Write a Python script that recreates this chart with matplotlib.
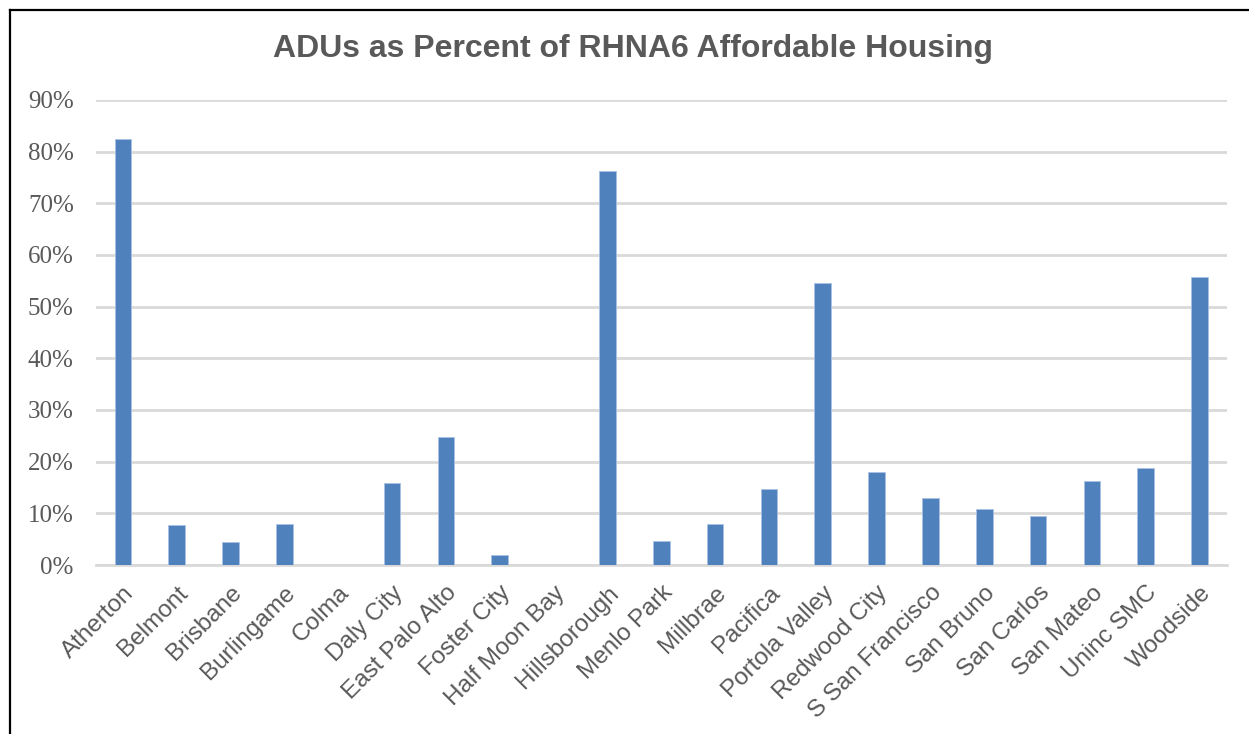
import matplotlib.pyplot as plt
from matplotlib.lines import Line2D
from matplotlib.ticker import FuncFormatter

cities = ["Atherton", "Belmont", "Brisbane", "Burlingame", "Colma", "Daly City",
          "East Palo Alto", "Foster City", "Half Moon Bay", "Hillsborough",
          "Menlo Park", "Millbrae", "Pacifica", "Portola Valley", "Redwood City",
          "S San Francisco", "San Bruno", "San Carlos", "San Mateo", "Uninc SMC",
          "Woodside"]
# ADUs as share of RHNA6 affordable units (fraction)
adu_share = [0.824, 0.077, 0.045, 0.080, 0.0, 0.159, 0.247, 0.019, 0.0, 0.762,
             0.046, 0.080, 0.148, 0.546, 0.180, 0.129, 0.108, 0.094, 0.162, 0.188,
             0.558]
yticks = [0.0, 0.1, 0.2, 0.3, 0.4, 0.5, 0.6, 0.7, 0.8, 0.9]

grey = "#595959"

fig = plt.figure(figsize=(12.49, 7.34), dpi=100)
ax = fig.add_axes([0.0769, 0.2302, 0.9051, 0.6338])

x = list(range(len(cities)))
ax.bar(x, adu_share, width=0.31, color="#4F81BD", edgecolor="#A9C2E3",
       linewidth=0.6, zorder=3)

ax.set_xlim(-0.5, len(cities) - 0.5)
ax.set_ylim(0, 0.9)
ax.set_yticks(yticks)
ax.yaxis.set_major_formatter(FuncFormatter(lambda v, p: f"{v*100:.0f}%"))
ax.grid(axis="y", color="#D9D9D9", linewidth=2, zorder=0)
for s in ["top", "right", "left"]:
    ax.spines[s].set_visible(False)
ax.spines["bottom"].set_color("#D9D9D9")
ax.spines["bottom"].set_linewidth(2)
ax.tick_params(axis="both", length=0)
ax.tick_params(axis="y", pad=16)

ax.set_xticks(x)
ax.set_xticklabels(cities, rotation=45, ha="right", rotation_mode="anchor",
                   family="Liberation Sans", fontsize=17.5, color=grey)
ax.tick_params(axis="x", pad=12)
for lab in ax.get_yticklabels():
    lab.set_family("Liberation Serif")
    lab.set_fontsize(18)
    lab.set_color(grey)

fig.text(0.507, 0.933, "ADUs as Percent of RHNA6 Affordable Housing",
         ha="center", va="center", family="Liberation Sans",
         fontsize=23, fontweight="bold", color=grey)

# chart frame (only left and top edges are visible in the crop)
fig.add_artist(Line2D([9.5 / 1249, 9.5 / 1249], [0, 1 - 9.5 / 734],
                      color="black", linewidth=1.6, transform=fig.transFigure))
fig.add_artist(Line2D([9.5 / 1249, 1], [1 - 9.5 / 734, 1 - 9.5 / 734],
                      color="black", linewidth=1.6, transform=fig.transFigure))

fig.savefig("out.png", dpi=100)
